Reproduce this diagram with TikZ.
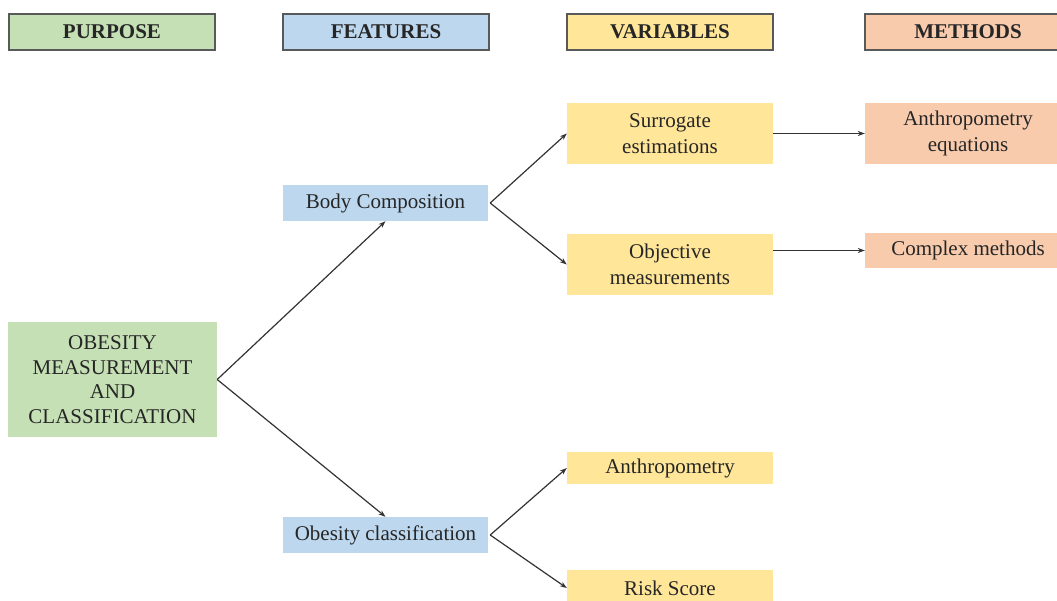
\documentclass[tikz,border=0pt]{standalone}
\usepackage{fontspec}
\setmainfont{Liberation Serif}
\usetikzlibrary{arrows.meta}
\definecolor{cgreen}{HTML}{C5E0B4}
\definecolor{cblue}{HTML}{BDD7EE}
\definecolor{cyellow}{HTML}{FFE699}
\definecolor{corange}{HTML}{F8CBAD}
\definecolor{ctext}{HTML}{262626}
\definecolor{cline}{HTML}{333333}
\definecolor{cborder}{HTML}{595959}
\begin{document}
\begin{tikzpicture}[x=1pt,y=-1pt,
  box/.style={rectangle, inner sep=0pt, align=center, text=ctext,
    font=\fontsize{21}{26}\selectfont, minimum width=206pt},
  hdr/.style={box, draw=cborder, line width=1.5pt, minimum height=36pt,
    font=\fontsize{21}{26}\selectfont\bfseries},
  arr/.style={draw=cline, line width=1.2pt, -{Stealth[length=7pt,width=5pt]}}]
\useasboundingbox (0,0) rectangle (1057,601);
\clip (0,0) rectangle (1057,601);
% headers
\node[hdr, fill=cgreen]  (hpurpose)  at (112,32) {PURPOSE};
\node[hdr, fill=cblue]   (hfeatures) at (386,32) {FEATURES};
\node[hdr, fill=cyellow] (hvariables) at (670,32) {VARIABLES};
\node[hdr, fill=corange] (hmethods)  at (968,32) {METHODS};
% main nodes
\node[box, fill=cgreen, minimum width=209pt, minimum height=115pt, font=\fontsize{21}{24.5}\selectfont] (obesity) at (112.5,379.5)
  {OBESITY\\MEASUREMENT\\AND\\CLASSIFICATION};
\node[box, fill=cblue, minimum width=205pt, minimum height=36pt] (body) at (385.5,203) {Body Composition};
\node[box, fill=cblue, minimum width=205pt, minimum height=36pt] (oclass) at (385.5,535) {Obesity classification};
\node[box, fill=cyellow, minimum height=61pt] (surrogate) at (670,133.5) {Surrogate\\estimations};
\node[box, fill=cyellow, minimum height=61pt] (objective) at (670,264.5) {Objective\\measurements};
\node[box, fill=cyellow, minimum height=32pt] (anthro) at (670,468) {Anthropometry};
\node[box, fill=cyellow, minimum height=36pt] (risk) at (670,588) {Risk Score};
\node[box, fill=corange, minimum height=61pt] (anthroeq) at (968,133.5) {Anthropometry\\equations};
\node[box, fill=corange, minimum height=35pt] (complex) at (968,250.5) {Complex methods};
% connectors
\draw[arr] (obesity.east) -- (body.south);
\draw[arr] (obesity.east) -- (oclass.north);
\draw[arr] ([xshift=2pt]body.east) -- (surrogate.west);
\draw[arr] ([xshift=2pt]body.east) -- (objective.west);
\draw[arr] ([xshift=2pt]oclass.east) -- (anthro.west);
\draw[arr] ([xshift=2pt]oclass.east) -- (risk.west);
\draw[arr] (surrogate.east) -- (anthroeq.west);
\draw[arr] (complex.west -| objective.east) -- (complex.west);
\end{tikzpicture}
\end{document}
